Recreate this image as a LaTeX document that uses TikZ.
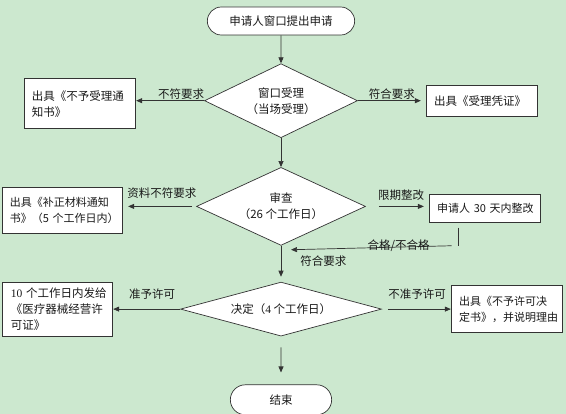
\documentclass[tikz,border=0pt]{standalone}
\usepackage{fontspec}
\setmainfont{Noto Sans CJK SC}
\newfontfamily\numfont{Liberation Serif}
\usetikzlibrary{arrows.meta, shapes.geometric, shapes.misc, positioning}
\definecolor{bgreen}{RGB}{204,232,207}
\definecolor{linegray}{RGB}{51,51,51}

\begin{document}
\begin{tikzpicture}[
    x=1pt, y=-1pt,
    every node/.style={font=\fontsize{11.5}{16}\selectfont, text=black!90},
    box/.style={rectangle, draw=linegray, fill=white, line width=0.7pt, align=left, inner xsep=7pt, inner ysep=3pt},
    term/.style={rounded rectangle, draw=linegray, fill=white, line width=0.7pt, minimum height=28pt},
    decision/.style={diamond, draw=linegray, fill=white, line width=0.7pt, align=center, inner sep=0pt},
    arrow/.style={-{Triangle[length=6pt, width=5pt]}, line width=0.7pt, draw=linegray},
    link/.style={line width=0.7pt, draw=linegray},
    lbl/.style={inner sep=1pt, font=\fontsize{11.5}{13}\selectfont},
]

\fill[bgreen] (0,0) rectangle (566,414);
\useasboundingbox (0,0) rectangle (566,414);

% main column
\node[term, minimum width=154pt] (start) at (281,21) {申请人窗口提出申请};
\node[decision, aspect=2, minimum width=153pt, minimum height=74pt, below=28pt of start] (accept) {窗口受理\\（当场受理）};
\node[decision, aspect=2.17, minimum width=169pt, minimum height=78pt, below=29pt of accept] (review) {审查\\（26~个工作日）};
\node[decision, aspect=3.7, minimum width=201pt, minimum height=54pt, below=36pt of review] (decide) {决定（{\numfont 4}~个工作日）};
\node[term, minimum width=108pt, minimum height=30pt, below=48pt of decide] (finish) {结束};

% side boxes
\node[box, text width=97pt, minimum height=50pt, left=68pt of accept, yshift=-3pt] (reject) {出具《不予受理通\\知书》};
\node[box, text width=95pt, inner xsep=8pt, minimum height=31pt, right=68pt of accept] (receipt) {出具《受理凭证》};
\node[box, text width=106pt, minimum height=46pt, left=73pt of review, yshift=-4pt, font=\fontsize{11}{16}\selectfont] (supply) {出具《补正材料通知\\书》（5~个工作日内）};
\node[box, text width=95pt, inner xsep=8pt, minimum height=28pt, right=63pt of review, yshift=-2pt, font=\fontsize{11}{16}\selectfont] (rectify) {申请人~30~天内整改};
\node[box, text width=94pt, inner xsep=8pt, minimum height=54pt, left=67pt of decide] (grant) {{\numfont 10}~个工作日内发给\\《医疗器械经营许\\可证》};
\node[box, text width=95pt, inner xsep=8pt, minimum height=47pt, right=69pt of decide, font=\fontsize{11}{16}\selectfont] (refuse) {出具《不予许可决\\定书》，并说明理由};

% connectors
\draw[arrow] (start) -- (accept);
\draw[arrow] (accept.west) -- node[lbl, above, pos=0.34] {不符要求} (accept.west -| reject.east);
\draw[arrow, shorten >=5pt] (accept.east) -- node[lbl, above, pos=0.5] {符合要求} (accept.east -| receipt.west);
\draw[arrow] (accept) -- (review);

\draw[arrow, shorten <=4pt, shorten >=5pt] (review.west) -- node[lbl, above, pos=0.47, yshift=7pt] {资料不符要求} (review.west -| supply.east);
\draw[arrow, shorten <=13pt, shorten >=5pt] (review.east) -- node[lbl, above, pos=0.56, yshift=5pt] {限期整改} (review.east -| rectify.west);

% feedback from rectify
\coordinate (fb) at ([shift={(-26pt,-23pt)}]rectify.south);
\coordinate (fbin) at ([shift={(10pt,-4pt)}]review.south);
\draw[link] (fb |- rectify.south) ++(0pt,-5pt) -- (fb);
\draw[arrow] ([xshift=-7pt]fb) -- node[lbl, pos=0.33, yshift=1.5pt] {合格/不合格} (fbin);

\draw[arrow, shorten >=5pt] (review) -- node[lbl, right, pos=0.42, xshift=18pt] {符合要求} (decide);

\draw[arrow] (decide.west) -- node[lbl, above, pos=0.42, yshift=8pt] {准予许可} (grant);
\draw[arrow, shorten <=6pt] (decide.east) -- node[lbl, above, pos=0.51, yshift=8pt] {不准予许可} (refuse);
\draw[arrow, shorten <=11pt, shorten >=12pt] (decide) -- (finish);

\end{tikzpicture}
\end{document}
